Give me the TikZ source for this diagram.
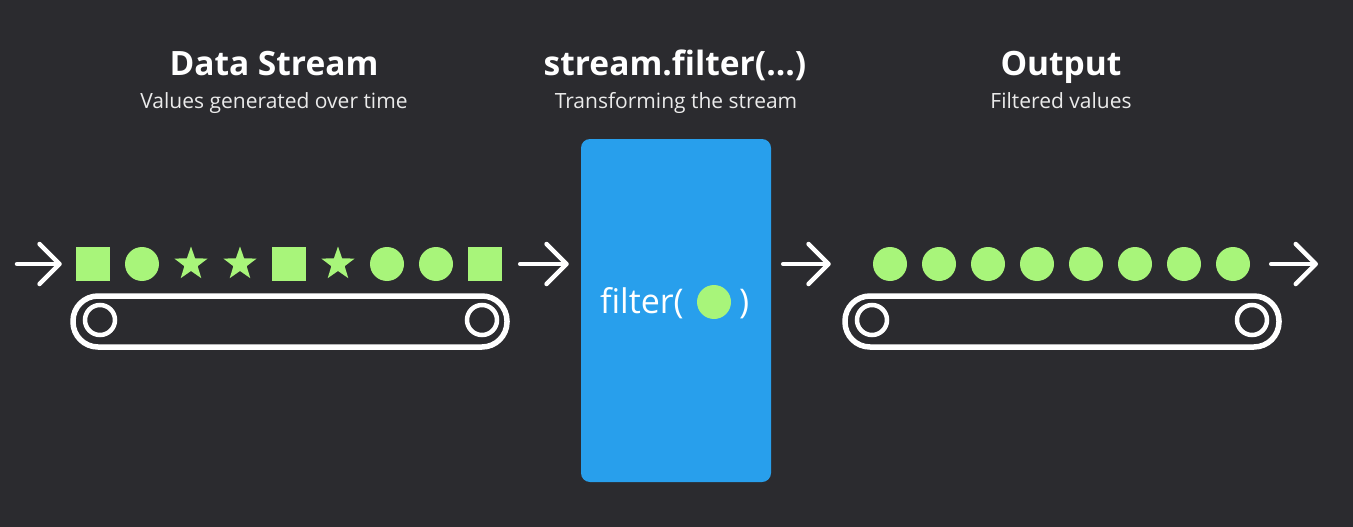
\documentclass[tikz,border=0pt]{standalone}
\usepackage{fontspec}
\setmainfont{Open Sans}
\usetikzlibrary{arrows.meta,shapes.geometric}
\definecolor{bgc}{HTML}{2B2B2F}
\definecolor{valc}{HTML}{A8F57A}
\definecolor{boxc}{HTML}{289FEC}
\tikzset{
  title/.style={anchor=base, text=white, font=\bfseries\fontsize{33.5}{40}\selectfont},
  subtitle/.style={anchor=base, text=white!92!black, font=\fontsize{21}{25}\selectfont},
  sq/.style={fill=valc, minimum size=34pt, inner sep=0pt},
  dot/.style={circle, fill=valc, minimum size=34pt, inner sep=0pt},
  st/.style={star, star points=5, star point ratio=2.5, fill=valc, minimum size=35pt, inner sep=0pt},
  belt/.style={draw=white, line width=5.5pt, rounded corners=25pt},
  wheel/.style={draw=white, line width=4.5pt},
  flow/.style={draw=white, line width=4.5pt, line cap=round,
    -{Straight Barb[length=20pt, width=40pt, round]}}
}
\begin{document}
\begin{tikzpicture}[x=1pt, y=-1pt]
\fill [bgc] (0,0) rectangle (1353,527);
\useasboundingbox (0,0) rectangle (1353,527);

% headings
\node [title] (dsTitle) at (274,76) {Data Stream};
\node [subtitle] (dsSub) at (274,108) {Values generated over time};
\node [title] (flTitle) at (675,76) {stream.filter(...)};
\node [subtitle] (flSub) at (676,108) {Transforming the stream};
\node [title] (outTitle) at (1061,76) {Output};
\node [subtitle] (outSub) at (1061,108) {Filtered values};

% incoming values
\foreach \i/\k in {1/sq,2/dot,3/st,4/st,5/sq,6/st,7/dot,8/dot,9/sq} {
\node [\k] (in\i) at ({93+49*(\i-1)},264) {};}

% filtered values
\foreach \i in {1,...,8} {
\node [dot] (out\i) at ({890+49*(\i-1)},264) {};}

% belts
\draw [belt] (73,296) rectangle (507,347);
\draw [wheel] (100,320) circle (15);
\draw [wheel] (482,320) circle (15);
\draw [belt] (845,296) rectangle (1279,347);
\draw [wheel] (872,320) circle (15);
\draw [wheel] (1252,320) circle (15);

% filter box
\node [fill=boxc, rounded corners=9pt, minimum width=190pt, minimum height=343pt, inner sep=0pt] (fbox) at (676,310.5) {};
\node [anchor=base east, text=white, inner sep=0pt, font=\fontsize{34}{40}\selectfont] (fword) at (684,313) {filter(};
\node [dot] (fdot) at (714,302) {};
\node [anchor=base west, text=white, inner sep=0pt, font=\fontsize{34}{40}\selectfont] (fclose) at (739,313) {)};

% arrows
\coordinate (src) at (17,264);
\coordinate (sink) at (1318,264);
\draw [flow, shorten >=14pt] (src) -- (in1.west);
\draw [flow, shorten <=18pt, shorten >=12pt] (in9.east) -- (in9.east -| fbox.west);
\draw [flow, shorten <=12pt, shorten >=42pt] (fbox.east |- out1) -- (out1.west);
\draw [flow, shorten <=21pt] (out8.east) -- (sink);
\end{tikzpicture}
\end{document}
